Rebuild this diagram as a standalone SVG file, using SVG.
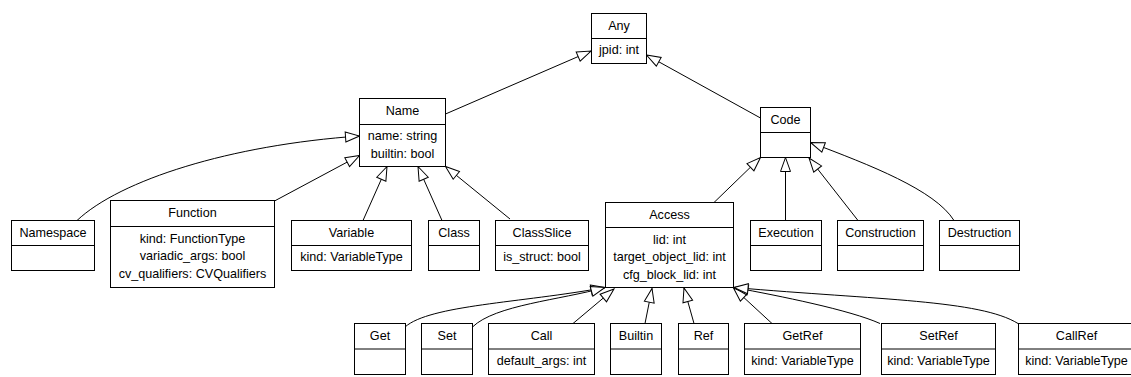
<svg xmlns="http://www.w3.org/2000/svg" width="1131" height="377" viewBox="0 0 1131 377">
<style>
.box{fill:#fff;stroke:#000;stroke-width:1}
.div{stroke:#000;stroke-width:1}
text{font-family:"Liberation Sans",Arial,sans-serif;font-size:12.6px;fill:#000;text-anchor:middle}
.edge{fill:none;stroke:#000;stroke-width:1;marker-end:url(#tri)}
</style>
<defs>
<marker id="tri" markerUnits="userSpaceOnUse" markerWidth="16" markerHeight="12" refX="14" refY="5" orient="auto" overflow="visible">
<path d="M0,0 L14,5 L0,10 Z" fill="#fff" stroke="#000" stroke-width="1"/>
</marker>
</defs>
<rect width="1131" height="377" fill="#fff"/>
<g id="connectors">
<path class="edge" d="M445.5,114 L591,51"/>
<path class="edge" d="M760.5,118 L646.5,55"/>
<path class="edge" d="M77,220.5 C120,180 230,145 359.5,136"/>
<path class="edge" d="M274.5,201 L359.5,155.5"/>
<path class="edge" d="M363,220.5 L387,166.5"/>
<path class="edge" d="M442,220.5 L418,166.5"/>
<path class="edge" d="M510,219 L445.5,166.5"/>
<path class="edge" d="M714,202.5 L760.5,157.5"/>
<path class="edge" d="M785.5,220.5 L785.5,157.5"/>
<path class="edge" d="M858,220.5 L809,158"/>
<path class="edge" d="M954,220.5 C935,190 870,165 810.5,142.5"/>
<path class="edge" d="M405,327 C430,305 520,303 605,287.5"/>
<path class="edge" d="M472.5,327 C495,305 560,300 605,287.5"/>
<path class="edge" d="M573,323.5 L614,289"/>
<path class="edge" d="M645,323.5 L652,288.5"/>
<path class="edge" d="M694,323.5 L684,288"/>
<path class="edge" d="M772,323.5 L733.5,288"/>
<path class="edge" d="M880,323.5 C850,310 780,296 734,287.5"/>
<path class="edge" d="M1018,323.5 C980,300 880,300 734,287.5"/>
</g>
<g id="Any">
<rect class="box" x="591.5" y="13.5" width="55" height="50"/>
<line class="div" x1="591.5" y1="38.5" x2="646.5" y2="38.5"/>
<text x="619" y="29.5">Any</text>
<text x="619" y="54">jpid: int</text>
</g>
<g id="Name">
<rect class="box" x="359.5" y="98.5" width="86" height="68"/>
<line class="div" x1="359.5" y1="124.5" x2="445.5" y2="124.5"/>
<text x="402.5" y="114.5">Name</text>
<text x="402.5" y="140">name: string</text>
<text x="402.5" y="157.5">builtin: bool</text>
</g>
<g id="Code">
<rect class="box" x="760.5" y="107.5" width="50" height="50"/>
<line class="div" x1="760.5" y1="132.5" x2="810.5" y2="132.5"/>
<text x="785.5" y="123.5">Code</text>
</g>
<g id="Namespace">
<rect class="box" x="11.5" y="220.5" width="83" height="50"/>
<line class="div" x1="11.5" y1="245.5" x2="94.5" y2="245.5"/>
<text x="53" y="236.5">Namespace</text>
</g>
<g id="Function">
<rect class="box" x="110.5" y="200.5" width="164" height="87"/>
<line class="div" x1="110.5" y1="226.5" x2="274.5" y2="226.5"/>
<text x="192.5" y="216.5">Function</text>
<text x="192.5" y="242.5">kind: FunctionType</text>
<text x="192.5" y="260">variadic_args: bool</text>
<text x="192.5" y="277.5">cv_qualifiers: CVQualifiers</text>
</g>
<g id="Variable">
<rect class="box" x="291.5" y="220.5" width="120" height="50"/>
<line class="div" x1="291.5" y1="245.5" x2="411.5" y2="245.5"/>
<text x="351.5" y="236.5">Variable</text>
<text x="351.5" y="261">kind: VariableType</text>
</g>
<g id="Class">
<rect class="box" x="428.5" y="220.5" width="51" height="50"/>
<line class="div" x1="428.5" y1="245.5" x2="479.5" y2="245.5"/>
<text x="454" y="236.5">Class</text>
</g>
<g id="ClassSlice">
<rect class="box" x="495.5" y="220.5" width="93" height="50"/>
<line class="div" x1="495.5" y1="245.5" x2="588.5" y2="245.5"/>
<text x="542" y="236.5">ClassSlice</text>
<text x="542" y="261">is_struct: bool</text>
</g>
<g id="Access">
<rect class="box" x="605.5" y="202.5" width="128" height="85"/>
<line class="div" x1="605.5" y1="227.5" x2="733.5" y2="227.5"/>
<text x="669.5" y="218.5">Access</text>
<text x="669.5" y="243.5">lid: int</text>
<text x="669.5" y="261">target_object_lid: int</text>
<text x="669.5" y="278.5">cfg_block_lid: int</text>
</g>
<g id="Execution">
<rect class="box" x="750.5" y="220.5" width="71" height="50"/>
<line class="div" x1="750.5" y1="245.5" x2="821.5" y2="245.5"/>
<text x="786" y="236.5">Execution</text>
</g>
<g id="Construction">
<rect class="box" x="837.5" y="220.5" width="86" height="50"/>
<line class="div" x1="837.5" y1="245.5" x2="923.5" y2="245.5"/>
<text x="880.5" y="236.5">Construction</text>
</g>
<g id="Destruction">
<rect class="box" x="939.5" y="220.5" width="80" height="50"/>
<line class="div" x1="939.5" y1="245.5" x2="1019.5" y2="245.5"/>
<text x="979.5" y="236.5">Destruction</text>
</g>
<g id="Get">
<rect class="box" x="354.5" y="323.5" width="51" height="51"/>
<line class="div" x1="354.5" y1="349" x2="405.5" y2="349"/>
<text x="380" y="339.5">Get</text>
</g>
<g id="Set">
<rect class="box" x="421.5" y="323.5" width="51" height="51"/>
<line class="div" x1="421.5" y1="349" x2="472.5" y2="349"/>
<text x="447" y="339.5">Set</text>
</g>
<g id="Call">
<rect class="box" x="488.5" y="323.5" width="106" height="51"/>
<line class="div" x1="488.5" y1="349" x2="594.5" y2="349"/>
<text x="541.5" y="339.5">Call</text>
<text x="541.5" y="365">default_args: int</text>
</g>
<g id="Builtin">
<rect class="box" x="610.5" y="323.5" width="51" height="51"/>
<line class="div" x1="610.5" y1="349" x2="661.5" y2="349"/>
<text x="636" y="339.5">Builtin</text>
</g>
<g id="Ref">
<rect class="box" x="678.5" y="323.5" width="50" height="51"/>
<line class="div" x1="678.5" y1="349" x2="728.5" y2="349"/>
<text x="703.5" y="339.5">Ref</text>
</g>
<g id="GetRef">
<rect class="box" x="744.5" y="323.5" width="116" height="51"/>
<line class="div" x1="744.5" y1="349" x2="860.5" y2="349"/>
<text x="802.5" y="339.5">GetRef</text>
<text x="802.5" y="365">kind: VariableType</text>
</g>
<g id="SetRef">
<rect class="box" x="881.5" y="323.5" width="114" height="51"/>
<line class="div" x1="881.5" y1="349" x2="995.5" y2="349"/>
<text x="938.5" y="339.5">SetRef</text>
<text x="938.5" y="365">kind: VariableType</text>
</g>
<g id="CallRef">
<rect class="box" x="1018.5" y="323.5" width="116" height="51"/>
<line class="div" x1="1018.5" y1="349" x2="1134.5" y2="349"/>
<text x="1076.5" y="339.5">CallRef</text>
<text x="1076.5" y="365">kind: VariableType</text>
</g>
</svg>
